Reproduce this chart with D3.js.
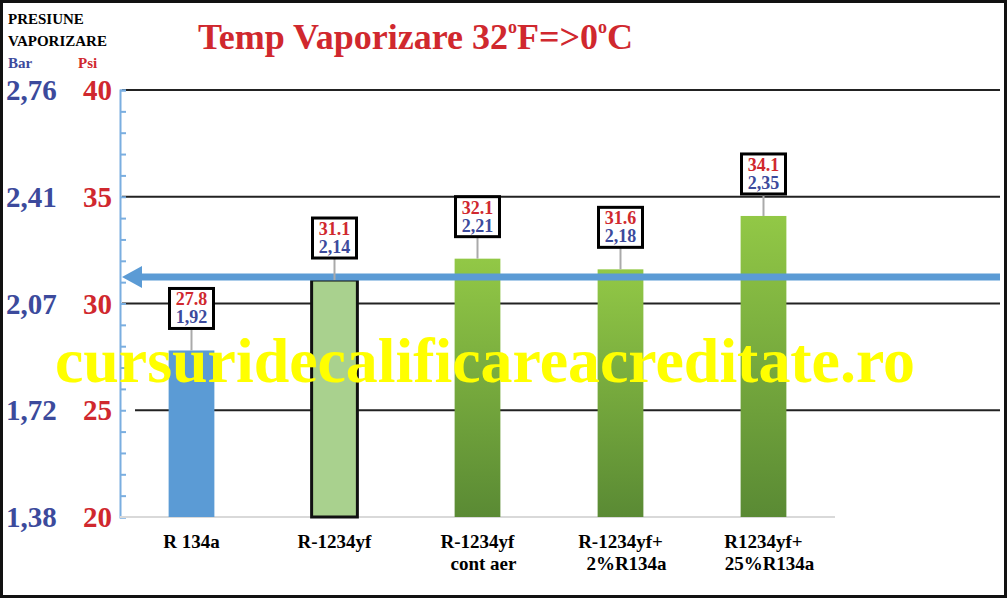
<!DOCTYPE html><html><head><meta charset="utf-8"><script src="https://cdn.jsdelivr.net/npm/d3@7"></script>
<style>body{margin:0;background:#fff}svg{display:block}</style></head><body><svg id="c" width="1008" height="599"></svg><script>
const categories=[["R 134a"],["R-1234yf"],["R-1234yf","cont aer"],["R-1234yf+","2%R134a"],["R1234yf+","25%R134a"]];
const psiValues=[27.8,31.1,32.1,31.6,34.1];
const barValues=["1,92","2,14","2,21","2,18","2,35"];
const psiTicks=[20,25,30,35,40];
const barTicks=["1,38","1,72","2,07","2,41","2,76"];
const refPsi=31.1;
const svg=d3.select("#c");
const serif="'Liberation Serif','Times New Roman',serif";
const red="#d0282e",blue="#3c4a9c";
svg.append("rect").attr("x",1.5).attr("y",1.5).attr("width",1004).attr("height",595).attr("fill","#fff").attr("stroke","#111").attr("stroke-width",3);
const y=d3.scaleLinear().domain([20,40]).range([517,90]);
const x=d3.scaleBand().domain(d3.range(5)).range([120,835]).paddingInner(0.68).paddingOuter(0.34);
const defs=svg.append("defs");
const g=defs.append("linearGradient").attr("id","gr").attr("x1",0).attr("y1",0).attr("x2",0).attr("y2",1);
g.append("stop").attr("offset",0).attr("stop-color","#92c846");g.append("stop").attr("offset",1).attr("stop-color","#5a8a34");
svg.selectAll(".gl").data(psiTicks.slice(1)).join("line").attr("x1",d=>d==25?135:122).attr("x2",1000)
 .attr("y1",d=>y(d)).attr("y2",d=>y(d)).attr("stroke","#222").attr("stroke-width",2);
const ax=svg.append("g").attr("transform","translate(120,0)").call(d3.axisRight(y).ticks(20).tickSize(6).tickFormat(""));
ax.selectAll("line,path").attr("stroke","#7aaee0").attr("stroke-width",2);
svg.append("line").attr("x1",120).attr("x2",835).attr("y1",517).attr("y2",517).attr("stroke","#d9d9d9").attr("stroke-width",2);
const fills=["#5b9bd5","#a9d18e","url(#gr)","url(#gr)","url(#gr)"];
svg.selectAll(".b").data(psiValues).join("rect").attr("x",(d,i)=>x(i)).attr("width",x.bandwidth())
 .attr("y",d=>y(d)).attr("height",d=>y(20)-y(d)).attr("fill",(d,i)=>fills[i])
 .attr("stroke",(d,i)=>i==1?"#111":"none").attr("stroke-width",3);
svg.append("line").attr("x1",135).attr("x2",1000).attr("y1",y(refPsi)-3).attr("y2",y(refPsi)-3).attr("stroke","#5b9bd5").attr("stroke-width",7);
svg.append("path").attr("d",`M122,${y(refPsi)-3}L142,${y(refPsi)-14}L142,${y(refPsi)+8}Z`).attr("fill","#5b9bd5");
psiValues.forEach((v,i)=>{
 const cx=x(i)+x.bandwidth()/2,top=y(v),by=top-62;
 svg.append("line").attr("x1",cx).attr("x2",cx).attr("y1",top).attr("y2",by+40).attr("stroke","#aaa").attr("stroke-width",2);
 svg.append("rect").attr("x",cx-22).attr("y",by).attr("width",44).attr("height",40).attr("fill","#fff").attr("stroke","#000").attr("stroke-width",3);
 svg.append("text").attr("x",cx).attr("y",by+17).attr("text-anchor","middle").attr("font-family",serif).attr("font-weight","bold").attr("font-size",18).attr("fill",red).text(String(v));
 svg.append("text").attr("x",cx).attr("y",by+35).attr("text-anchor","middle").attr("font-family",serif).attr("font-weight","bold").attr("font-size",18).attr("fill",blue).text(barValues[i]);
});
psiTicks.forEach((t,i)=>{
 svg.append("text").attr("x",112).attr("y",y(t)+10).attr("text-anchor","end").attr("font-family",serif).attr("font-weight","bold").attr("font-size",29).attr("fill",red).text(t);
 svg.append("text").attr("x",6).attr("y",y(t)+10).attr("font-family",serif).attr("font-weight","bold").attr("font-size",29).attr("fill",blue).text(barTicks[i]);
});
svg.append("text").attr("x",8).attr("y",24).attr("font-family",serif).attr("font-weight","bold").attr("font-size",15).text("PRESIUNE");
svg.append("text").attr("x",8).attr("y",46).attr("font-family",serif).attr("font-weight","bold").attr("font-size",15).text("VAPORIZARE");
svg.append("text").attr("x",8).attr("y",68).attr("font-family",serif).attr("font-weight","bold").attr("font-size",15).attr("fill",blue).text("Bar");
svg.append("text").attr("x",78).attr("y",68).attr("font-family",serif).attr("font-weight","bold").attr("font-size",15).attr("fill",red).text("Psi");
categories.forEach((c,i)=>{
 const cx=x(i)+x.bandwidth()/2;
 c.forEach((l,j)=>svg.append("text").attr("x",cx+(j?6:0)).attr("y",548+j*22).attr("text-anchor","middle").attr("font-family",serif).attr("font-weight","bold").attr("font-size",19).text(l));
});
const tt=svg.append("text").attr("x",198).attr("y",49).attr("font-family",serif).attr("font-weight","bold").attr("font-size",36).attr("fill",red);
tt.append("tspan").text("Temp Vaporizare 32");tt.append("tspan").attr("font-size",18).attr("dy",-16).text("o");
tt.append("tspan").attr("dy",16).text("F=>0");tt.append("tspan").attr("font-size",18).attr("dy",-16).text("o");tt.append("tspan").attr("dy",16).text("C");
svg.append("text").attr("x",55).attr("y",382).attr("textLength",860).attr("lengthAdjust","spacingAndGlyphs").attr("font-family",serif).attr("font-weight","bold").attr("font-size",64).attr("fill","#ffff00").text("cursuridecalificareacreditate.ro");
</script></body></html>
